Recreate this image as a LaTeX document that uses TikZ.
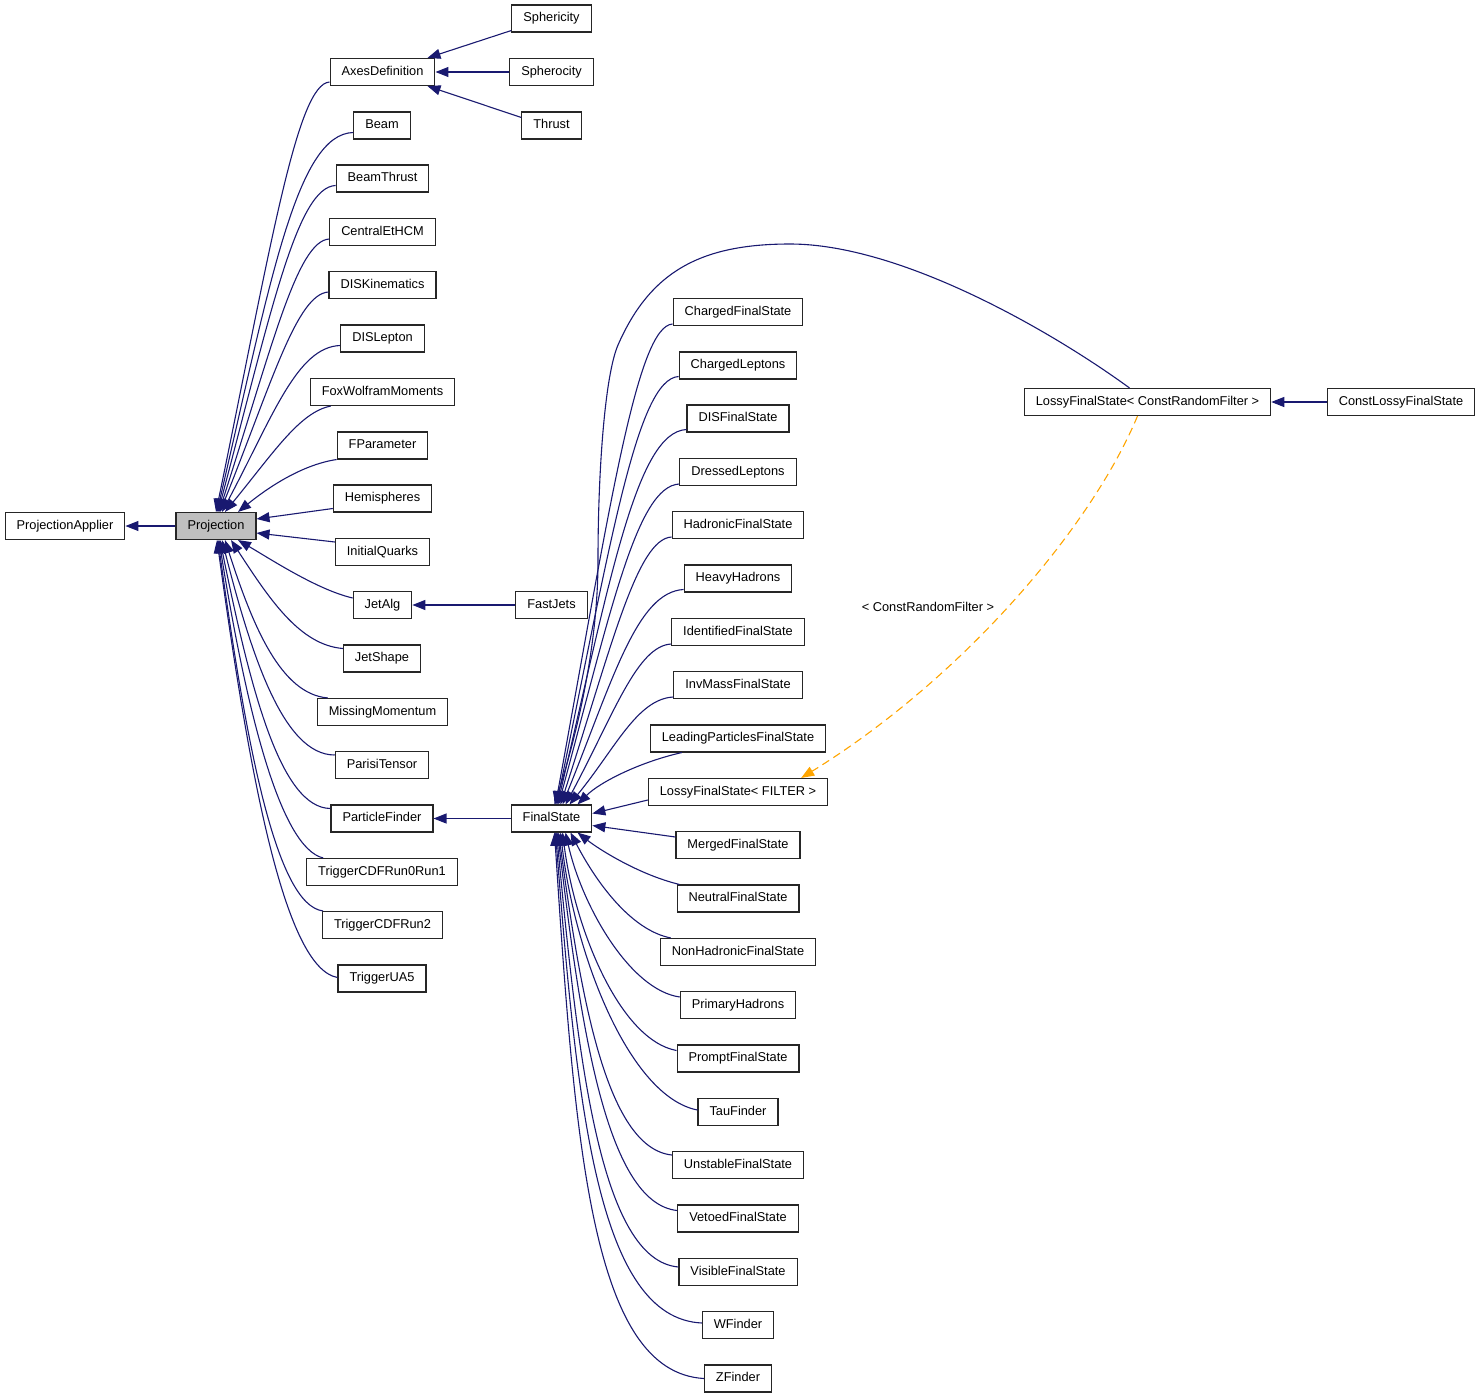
\documentclass[tikz,border=0pt]{standalone}
\usepackage{fontspec}
\setmainfont{Liberation Sans}
\usetikzlibrary{arrows.meta,calc}
\definecolor{edgeblue}{RGB}{25,25,112}
\definecolor{dashorange}{RGB}{255,165,0}
\definecolor{projgray}{RGB}{191,191,191}
\begin{document}
\begin{tikzpicture}[x=1pt,y=-1pt,
  cls/.style={draw=black!85,line width=1.1pt,minimum height=27pt,inner xsep=11.5pt,inner ysep=0pt,
    text height=9.2pt,text depth=2.8pt,font=\fontsize{12.8}{15}\selectfont},
  lbl/.style={inner sep=0pt,font=\fontsize{12.8}{15}\selectfont},
  edge/.style={draw=edgeblue,line width=1.1pt,-{Triangle[length=13pt,width=10pt]}},
  tmpl/.style={draw=dashorange,line width=1.1pt,dash pattern=on 8pt off 5pt,
    -{Triangle[length=13pt,width=10pt,fill=dashorange]}}]
\useasboundingbox (0,0) rectangle (1483,1400);
% column 1
\node[cls] (pa) at (65,526) {ProjectionApplier};
\node[cls,fill=projgray] (proj) at (216,526) {Projection};
% column 2
\node[cls] (axes) at (382.5,72) {AxesDefinition};
\node[cls] (beam) at (382,125.5) {Beam};
\node[cls] (bthrust) at (382.5,178.5) {BeamThrust};
\node[cls] (cethcm) at (382.5,232) {CentralEtHCM};
\node[cls] (disk) at (382.5,285) {DISKinematics};
\node[cls] (disl) at (382.5,338.5) {DISLepton};
\node[cls] (fox) at (382.5,392) {FoxWolframMoments};
\node[cls] (fpar) at (382.5,445.5) {FParameter};
\node[cls] (hemi) at (382.5,498.5) {Hemispheres};
\node[cls] (iq) at (382.5,552) {InitialQuarks};
\node[cls] (jetalg) at (382.5,605) {JetAlg};
\node[cls] (jetshape) at (382,658.5) {JetShape};
\node[cls] (missm) at (382.5,712) {MissingMomentum};
\node[cls] (parisi) at (382,765) {ParisiTensor};
\node[cls] (pfind) at (382,818.5) {ParticleFinder};
\node[cls] (tcdf01) at (382,872) {TriggerCDFRun0Run1};
\node[cls] (tcdf2) at (382.5,925) {TriggerCDFRun2};
\node[cls] (tua5) at (382,978.5) {TriggerUA5};
% column 3
\node[cls] (spher) at (551.5,18.5) {Sphericity};
\node[cls] (sphero) at (551.5,72) {Spherocity};
\node[cls] (thrust) at (551.5,125.5) {Thrust};
\node[cls] (fastjets) at (551.5,605) {FastJets};
\node[cls] (fs) at (551.5,818.5) {FinalState};
% column 4
\node[cls] (cfs) at (738,312) {ChargedFinalState};
\node[cls] (cl) at (738,365.5) {ChargedLeptons};
\node[cls] (disfs) at (738,418.5) {DISFinalState};
\node[cls] (dl) at (738,472) {DressedLeptons};
\node[cls] (hfs) at (738,525) {HadronicFinalState};
\node[cls] (hh) at (738,578.5) {HeavyHadrons};
\node[cls] (ifs) at (738,632) {IdentifiedFinalState};
\node[cls] (imfs) at (738,685) {InvMassFinalState};
\node[cls] (lpfs) at (738,738.5) {LeadingParticlesFinalState};
\node[cls] (lfilt) at (738,792) {LossyFinalState< FILTER >};
\node[cls] (mfs) at (738,845) {MergedFinalState};
\node[cls] (nfs) at (738,898.5) {NeutralFinalState};
\node[cls] (nhfs) at (738,952) {NonHadronicFinalState};
\node[cls] (ph) at (738,1005) {PrimaryHadrons};
\node[cls] (pfs) at (738,1058.5) {PromptFinalState};
\node[cls] (tau) at (738,1112) {TauFinder};
\node[cls] (ufs) at (738,1165) {UnstableFinalState};
\node[cls] (vfs) at (738,1218.5) {VetoedFinalState};
\node[cls] (visfs) at (738,1272) {VisibleFinalState};
\node[cls] (wf) at (738,1325) {WFinder};
\node[cls] (zf) at (738,1378.5) {ZFinder};
% right
\node[cls] (lcrf) at (1147.5,402) {LossyFinalState< ConstRandomFilter >};
\node[cls] (clfs) at (1401,402) {ConstLossyFinalState};
\node[lbl] (tlab) at (928,607) {< ConstRandomFilter >};

% straight edges
\draw[edge] (proj.west) -- (pa.east);
\draw[edge] ($(spher.west)+(0,12)$) -- ($(axes.north east)+(-8,0)$);
\draw[edge] (sphero.west) -- (axes.east);
\draw[edge] ($(thrust.west)+(0,-8)$) -- ($(axes.south east)+(-8,0)$);
\draw[edge] (fastjets.west) -- (jetalg.east);
\draw[edge] (fs.west) -- (pfind.east);
\draw[edge] (clfs.west) -- (lcrf.east);

% Projection children (above)
\draw[edge] ($(axes.west)+(0,10)$) .. controls (297,84) and (271,245) .. (proj.north);
\draw[edge] ($(beam.west)+(0,7)$) .. controls (297,134) and (271,278) .. ($(proj.north)+(1,0)$);
\draw[edge] ($(bthrust.west)+(0,7)$) .. controls (297,187) and (271,312) .. ($(proj.north)+(2,0)$);
\draw[edge] ($(cethcm.west)+(0,7)$) .. controls (297,241) and (272,347) .. ($(proj.north)+(3,0)$);
\draw[edge] ($(disk.west)+(0,7)$) .. controls (297,294) and (272,382) .. ($(proj.north)+(4,0)$);
\draw[edge] ($(disl.west)+(0,7)$) .. controls (297,347) and (273,416) .. ($(proj.north)+(6,0)$);
\draw[edge] ($(fox.south west)+(21,0)$) .. controls (300,412) and (274,452) .. ($(proj.north)+(9,0)$);
\draw[edge] ($(fpar.west)+(0,14)$) .. controls (300,465) and (265,490) .. ($(proj.north)+(22,0)$);
\draw[edge] ($(hemi.west)+(0,10)$) -- ($(proj.east)+(0,-7)$);
\draw[edge] ($(iq.west)+(0,-10)$) -- ($(proj.east)+(0,7)$);
% Projection children (below)
\draw[edge] ($(jetalg.west)+(0,-7)$) .. controls (318,590) and (272,560) .. ($(proj.south)+(22,0)$);
\draw[edge] ($(jetshape.west)+(0,-10)$) .. controls (300,645) and (270,600) .. ($(proj.south)+(15,0)$);
\draw[edge] ($(missm.north west)+(11,0)$) .. controls (281,694) and (253,627) .. ($(proj.south)+(9,0)$);
\draw[edge] ($(parisi.west)+(0,-10)$) .. controls (284,755) and (252,658) .. ($(proj.south)+(6,0)$);
\draw[edge] ($(pfind.west)+(0,-10)$) .. controls (280,808) and (250,687) .. ($(proj.south)+(4,0)$);
\draw[edge] ($(tcdf01.north west)+(17,0)$) .. controls (281,848) and (247,715) .. ($(proj.south)+(3,0)$);
\draw[edge] ($(tcdf2.north west)+(1,0)$) .. controls (276,905) and (246,744) .. ($(proj.south)+(2,0)$);
\draw[edge] ($(tua5.west)+(0,-1)$) .. controls (285,968) and (250,780) .. ($(proj.south)+(1,0)$);

% FinalState children (above)
\draw[edge] ($(lcrf.north)+(-18,0)$) .. controls (1050,330) and (900,244) .. (790,244)
   .. controls (700,244) and (650,272) .. (618,345)
   .. controls (605,375) and (598,470) .. (598,560)
   .. controls (598,650) and (575,740) .. ($(fs.north)+(3,0)$);
\draw[edge] ($(cfs.west)+(0,12)$) .. controls (637,326) and (610,506) .. ($(fs.north)+(4,0)$);
\draw[edge] ($(cl.west)+(0,11)$) .. controls (637,379) and (611,541) .. ($(fs.north)+(5,0)$);
\draw[edge] ($(disfs.west)+(0,11)$) .. controls (637,432) and (611,575) .. ($(fs.north)+(6,0)$);
\draw[edge] ($(dl.west)+(0,12)$) .. controls (637,486) and (611,610) .. ($(fs.north)+(7,0)$);
\draw[edge] ($(hfs.west)+(0,12)$) .. controls (637,539) and (612,645) .. ($(fs.north)+(9,0)$);
\draw[edge] ($(hh.west)+(0,11)$) .. controls (637,592) and (613,679) .. ($(fs.north)+(11,0)$);
\draw[edge] ($(ifs.west)+(0,12)$) .. controls (637,646) and (614,714) .. ($(fs.north)+(14,0)$);
\draw[edge] ($(imfs.west)+(0,12)$) .. controls (637,699) and (615,749) .. ($(fs.north)+(18,0)$);
\draw[edge] ($(lpfs.south west)+(32,0)$) .. controls (640,762) and (600,782) .. ($(fs.north)+(26,0)$);
\draw[edge] ($(lfilt.west)+(0,8)$) -- ($(fs.east)+(0,-5)$);
\draw[edge] ($(mfs.west)+(0,-8)$) -- ($(fs.east)+(0,7)$);
% FinalState children (below)
\draw[edge] ($(nfs.north west)+(3,0)$) .. controls (640,875) and (600,850) .. ($(fs.south)+(26,0)$);
\draw[edge] ($(nhfs.north west)+(11,0)$) .. controls (630,930) and (595,880) .. ($(fs.south)+(19,0)$);
\draw[edge] ($(ph.west)+(0,-8)$) .. controls (630,990) and (582,906) .. ($(fs.south)+(14,0)$);
\draw[edge] ($(pfs.west)+(0,-8)$) .. controls (620,1040) and (575,930) .. ($(fs.south)+(11,0)$);
\draw[edge] ($(tau.west)+(0,-2)$) .. controls (630,1097) and (575,957) .. ($(fs.south)+(9,0)$);
\draw[edge] ($(ufs.west)+(0,-10)$) .. controls (605,1148) and (580,990) .. ($(fs.south)+(7,0)$);
\draw[edge] ($(vfs.west)+(0,-8)$) .. controls (605,1203) and (580,1020) .. ($(fs.south)+(6,0)$);
\draw[edge] ($(visfs.west)+(0,-5)$) .. controls (600,1260) and (578,1060) .. ($(fs.south)+(5,0)$);
\draw[edge] ($(wf.west)+(0,-2)$) .. controls (598,1318) and (577,1110) .. ($(fs.south)+(4,0)$);
\draw[edge] (zf.west) .. controls (592,1372) and (575,1150) .. ($(fs.south)+(3,0)$);

% template instance
\draw[tmpl] ($(lcrf.south)+(-10,0)$) .. controls (1090,530) and (960,680) .. ($(lfilt.north east)+(-27,0)$);
\end{tikzpicture}
\end{document}
